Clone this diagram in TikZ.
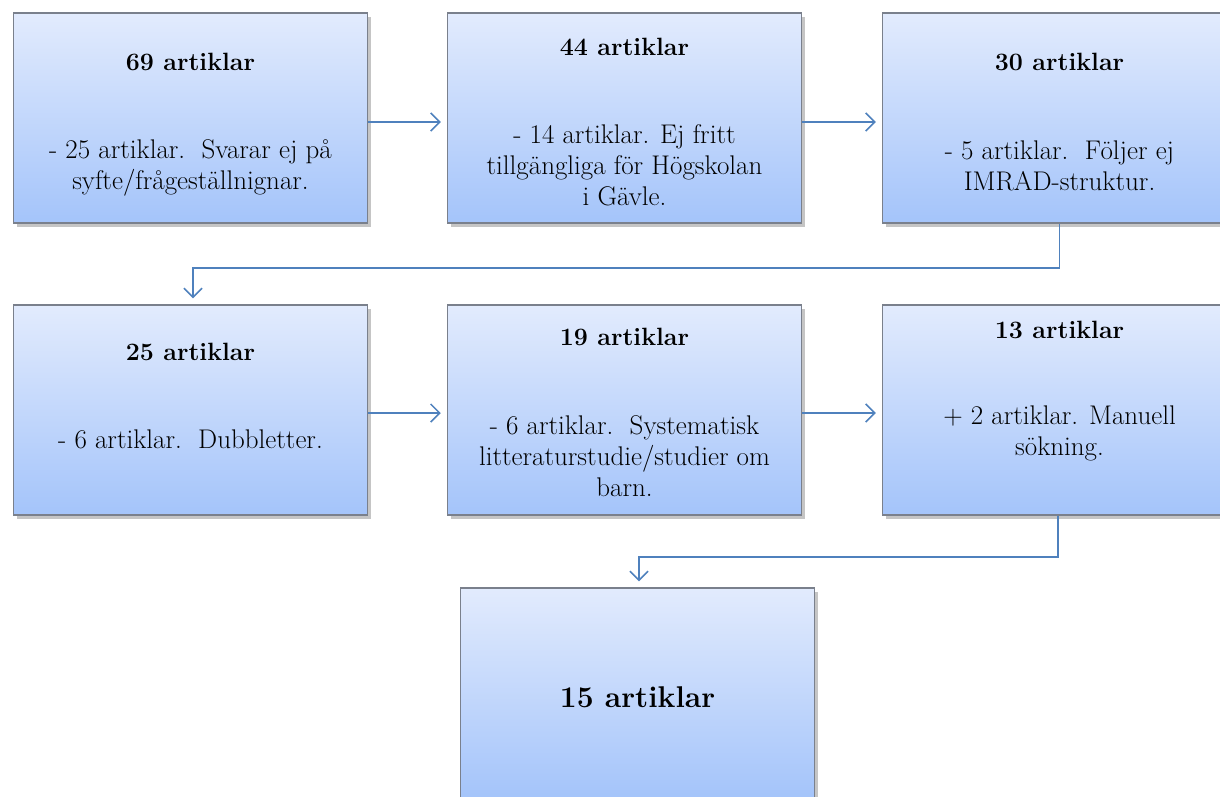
\documentclass[tikz,border=0pt]{standalone}
\usetikzlibrary{positioning,arrows.meta,shadows}
\definecolor{boxtop}{RGB}{226,235,253}
\definecolor{boxbot}{RGB}{164,196,250}
\definecolor{boxline}{RGB}{122,128,140}
\definecolor{arrowblue}{RGB}{79,129,189}
\tikzset{
  stepbox/.style={rectangle, draw=boxline, line width=1.5pt, top color=boxtop, bottom color=boxbot,
    minimum width=354pt, minimum height=210pt, inner sep=0pt,
    drop shadow={shadow xshift=3pt, shadow yshift=-4pt, fill=black!45, opacity=0.5}},
  ttl/.style={font=\fontsize{25}{31}\selectfont\bfseries, anchor=base, inner sep=0pt},
  txt/.style={font=\fontsize{27}{31}\selectfont, align=center, anchor=base, inner sep=0pt},
  conn/.style={draw=arrowblue, line width=1.5pt, shorten >=6pt,
    -{Straight Barb[length=9pt,width=18pt,line width=1.5pt]}},
}
\begin{document}
\begin{tikzpicture}[x=1pt,y=-1pt]
        \useasboundingbox (0,0) rectangle (1220,796);
        \clip (0,0) rectangle (1220,796);
        % boxes
        \node[stepbox] (a) at (190.5,118) {};
        \node[stepbox] (b) at (624.5,118) {};
        \node[stepbox] (c) at (1059.5,118) {};
        \node[stepbox] (d) at (190.5,410) {};
        \node[stepbox] (e) at (624.5,410) {};
        \node[stepbox] (f) at (1059.5,410) {};
        \node[stepbox] (g) at (637.5,693) {};
        % texts (base = last line)
        \node[ttl] (a-t) at (190.5,70) {69 artiklar};
        \node[txt] (a-b) at (190.5,189) {- 25 artiklar.\ \ Svarar ej på\\syfte/frågeställnignar.};
        \node[ttl] (b-t) at (624.5,55) {44 artiklar};
        \node[txt] (b-b) at (624.5,205) {- 14 artiklar. Ej fritt\\tillgängliga för Högskolan\\i Gävle.};
        \node[ttl] (c-t) at (1059.5,70) {30 artiklar};
        \node[txt] (c-b) at (1059.5,190) {- 5 artiklar.\ \ Följer ej\\IMRAD-struktur.};
        \node[ttl] (d-t) at (190.5,360) {25 artiklar};
        \node[txt] (d-b) at (190.5,448) {- 6 artiklar.\ \ Dubbletter.};
        \node[ttl] (e-t) at (624.5,345) {19 artiklar};
        \node[txt] (e-b) at (624.5,496) {- 6 artiklar.\ \ Systematisk\\litteraturstudie/studier om\\barn.};
        \node[ttl] (f-t) at (1059.5,338) {13 artiklar};
        \node[txt] (f-b) at (1059.5,455) {+ 2 artiklar. Manuell\\sökning.};
        \node[ttl, font=\fontsize{30}{36}\selectfont\bfseries] (g-t) at (637.5,707) {15 artiklar};
        % connectors
        \draw[conn] ([yshift=-4pt]a.east) -- ([yshift=-4pt]b.west);
        \draw[conn] ([yshift=-4pt]b.east) -- ([yshift=-4pt]c.west);
        \draw[conn] (c.south) -- ++(0,44) -| ([xshift=2.5pt]d.north);
        \draw[conn] ([yshift=-3pt]d.east) -- ([yshift=-3pt]e.west);
        \draw[conn] ([yshift=-3pt]e.east) -- ([yshift=-3pt]f.west);
        \draw[conn] ([xshift=-1.5pt]f.south) -- ++(0,41) -| ([xshift=1.5pt]g.north);
    \end{tikzpicture}
\end{document}
